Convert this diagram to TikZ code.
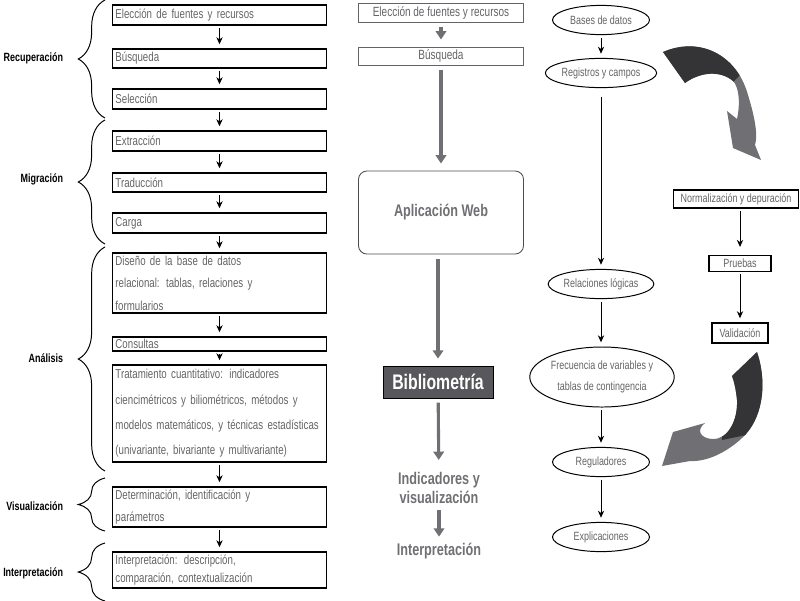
\documentclass[tikz,border=0pt]{standalone}
\usepackage{fontspec}
\setmainfont{Liberation Sans}[FakeStretch=0.75]
\usepackage{xcolor}
\usetikzlibrary{arrows.meta,shapes.geometric,decorations.pathreplacing}
\definecolor{txtgray}{RGB}{100,100,104}
\definecolor{arrgray}{RGB}{112,112,116}
\definecolor{bibgray}{RGB}{88,88,92}
\definecolor{darkarr}{RGB}{52,52,55}
\tikzset{
  lbox/.style ={draw, line width=0.8pt, align=left, text=txtgray,
                text width=5.2cm, inner xsep=2pt, inner ysep=1pt,
                font=\fontsize{9.2}{16}\selectfont},
  lbl/.style  ={font=\fontsize{8.5}{10}\selectfont\bfseries, anchor=east},
  brc/.style  ={decorate, decoration={brace, amplitude=19pt}, line width=0.7pt},
  tarr/.style ={-{Stealth[length=5pt, width=4.5pt]}, line width=0.7pt,
                shorten <=2pt, shorten >=3pt},
  mtop/.style ={draw=txtgray, line width=0.6pt, text=txtgray,
                minimum width=4.125cm, minimum height=0.48cm, inner ysep=1pt,
                font=\fontsize{9.5}{11}\selectfont},
  mtxt/.style ={text=arrgray, align=center,
                font=\fontsize{12}{16}\selectfont\bfseries},
  marr/.style ={-{Triangle[length=6pt, width=7.5pt]}, line width=2.2pt,
                arrgray, shorten <=3pt, shorten >=5pt},
  ell/.style  ={draw, ellipse, line width=0.7pt, text=txtgray, inner sep=0pt,
                minimum width=2.425cm, minimum height=0.73cm, align=center,
                font=\fontsize{8.5}{15}\selectfont},
  rbox/.style ={draw, line width=0.8pt, text=txtgray, inner ysep=1pt,
                minimum height=0.45cm, font=\fontsize{8.5}{10}\selectfont},
}

\begin{document}
\begin{tikzpicture}[x=0.025cm, y=-0.025cm]
\useasboundingbox (0,0) rectangle (800,600);

% left column: steps
\node[lbox, minimum height=0.5cm]   (elec) at (219.5,15)    {Elección de fuentes y recursos};
\node[lbox, minimum height=0.475cm] (busq) at (219.5,58.5)  {Búsqueda};
\node[lbox, minimum height=0.5cm]   (sele) at (219.5,99)    {Selección};
\node[lbox, minimum height=0.5cm]   (extr) at (219.5,141)   {Extracción};
\node[lbox, minimum height=0.475cm] (trad) at (219.5,182.5) {Traducción};
\node[lbox, minimum height=0.5cm]   (carg) at (219.5,223)   {Carga};
\node[lbox, minimum height=1.5cm]   (dise) at (219.5,283)
  {Diseño de la base de datos\\relacional: tablas, relaciones y\\formularios};
\node[lbox, minimum height=0.35cm]  (cons) at (219.5,344)   {Consultas};
\node[lbox, minimum height=2.425cm, font=\fontsize{9.2}{18}\selectfont] (trat) at (219.5,413.5)
  {Tratamiento cuantitativo: indicadores\\ciencimétricos y biliométricos, métodos y\\modelos matemáticos, y técnicas estadísticas\\(univariante, bivariante y multivariante)};
\node[lbox, minimum height=1.0cm]   (dete) at (219.5,507)
  {Determinación, identificación y\\parámetros};
\node[lbox, minimum height=0.9cm, font=\fontsize{9.2}{13}\selectfont] (inte) at (219.5,570)
  {Interpretación: descripción,\\comparación, contextualización};

\draw[tarr] (elec) -- (busq);
\draw[tarr] (busq) -- (sele);
\draw[tarr] (sele) -- (extr);
\draw[tarr] (extr) -- (trad);
\draw[tarr] (trad) -- (carg);
\draw[tarr] (carg) -- (dise);
\draw[tarr] (dise) -- (cons);
\draw[tarr] (cons) -- (trat);
\draw[tarr] (trat) -- (dete);
\draw[tarr] (dete) -- (inte);

% phases
\draw[brc] (105,118) -- (105,0);
\draw[brc] (105,244) -- (105,120);
\draw[brc] (105,471) -- (105,247);
\draw[brc] (105,531) -- (105,478);
\draw[brc] (105,601) -- (105,543);
\node[lbl] (frec1) at (68,58)  {Recuperación};
\node[lbl] (fmig)  at (68,179) {Migración};
\node[lbl] (fana)  at (68,358) {Análisis};
\node[lbl] (fvis)  at (68,506) {Visualización};
\node[lbl] (fint)  at (68,573) {Interpretación};

% middle column
\node[mtop] (melec) at (441,13) {Elección de fuentes y recursos};
\node[mtop, minimum height=0.45cm] (mbusq) at (441,56) {Búsqueda};
\node[mtop, draw=black!70, rounded corners=6pt, minimum height=2.075cm,
      font=\fontsize{12}{14}\selectfont\bfseries, text=arrgray] (mweb) at (441,212.5)
  {Aplicación Web};
\node[draw, fill=bibgray, text=white, minimum width=2.75cm, minimum height=0.8cm,
      inner sep=0pt, font=\fontsize{15}{17}\selectfont\bfseries] (mbib) at (438,382)
  {Bibliometría};
\node[mtxt] (mind) at (439,488) {Indicadores y\\[-2pt]visualización};
\node[mtxt] (mint) at (439,551) {Interpretación};

\draw[marr] (melec) -- (mbusq);
\draw[marr] (mbusq) -- (mweb);
\draw[marr] (mweb.south -| mbib) -- (mbib);
\draw[marr] (mbib) -- (mind);
\draw[marr, shorten <=1pt, shorten >=1pt] (mind) -- (mint);

% right column
\node[ell] (bases) at (601,20)  {Bases de datos};
\node[ell] (regis) at (601,73)  {Registros y campos};
\node[ell] (relac) at (601,284) {Relaciones lógicas};
\node[ell, minimum width=3.25cm, minimum height=1.5cm] (frec) at (602,377)
  {Frecuencia de variables y\\tablas de contingencia};
\node[ell] (regul) at (601,462) {Reguladores};
\node[ell] (expl)  at (601,537) {Explicaciones};

\draw[tarr] (bases) -- (regis);
\draw[tarr, shorten <=6pt] (regis) -- (relac);
\draw[tarr] (relac) -- (frec.north -| relac);
\draw[tarr] (frec.south -| regul) -- (regul);
\draw[tarr] (regul) -- (expl);

\node[rbox, minimum width=3.125cm] (norm) at (736,199) {Normalización y depuración};
\node[rbox, minimum width=1.55cm, minimum height=0.38cm] (prue) at (740,263.5) {Pruebas};
\node[rbox, minimum width=1.4cm, minimum height=0.5cm] (vali) at (740,333) {Validación};

\draw[tarr, shorten >=6pt] (norm.south -| prue) -- (prue);
\draw[tarr] (prue) -- (vali);

% curved block arrows
\fill[arrgray] (663,52) .. controls (700,36) and (737,55) .. (748,95)
  .. controls (755,118) and (758,135) .. (755,145) -- (761,160) -- (733,148)
  -- (727,111) -- (737,119) .. controls (741,100) and (738,86) .. (733,81)
  .. controls (720,70) and (700,72) .. (685,83) -- cycle;
\begin{scope}
  \clip (640,20) -- (760,20) -- (760,55) -- (715,100) -- (640,100) -- cycle;
  \fill[darkarr] (663,52) .. controls (700,36) and (737,55) .. (748,95)
    .. controls (755,118) and (758,135) .. (755,145) -- (761,160) -- (733,148)
    -- (727,111) -- (737,119) .. controls (741,100) and (738,86) .. (733,81)
    .. controls (720,70) and (700,72) .. (685,83) -- cycle;
\end{scope}

\fill[arrgray] (757,352) .. controls (768,385) and (762,420) .. (742,438)
  .. controls (726,453) and (706,462) .. (690,461) -- (662,466) -- (673,432)
  -- (705,423) .. controls (696,430) and (700,438) .. (712,439)
  .. controls (728,440) and (738,420) .. (737,400)
  .. controls (736,390) and (734,381) .. (732,376) -- cycle;
\begin{scope}
  \clip (722,340) -- (780,340) -- (780,428) -- (722,440) -- cycle;
  \fill[darkarr] (757,352) .. controls (768,385) and (762,420) .. (742,438)
    .. controls (726,453) and (706,462) .. (690,461) -- (662,466) -- (673,432)
    -- (705,423) .. controls (696,430) and (700,438) .. (712,439)
    .. controls (728,440) and (738,420) .. (737,400)
    .. controls (736,390) and (734,381) .. (732,376) -- cycle;
\end{scope}

\end{tikzpicture}
\end{document}
